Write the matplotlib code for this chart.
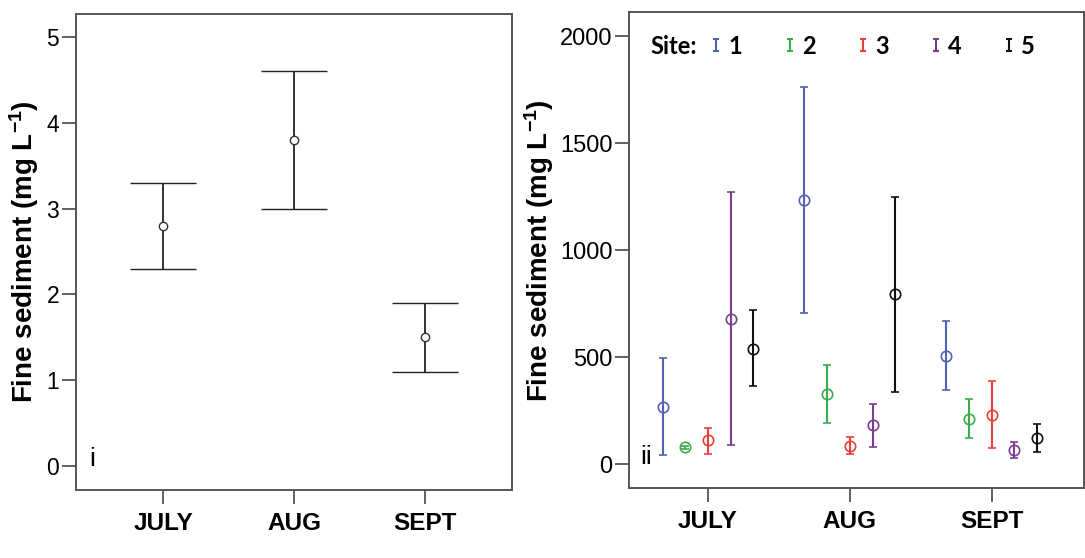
import numpy as np
import matplotlib
matplotlib.use('Agg')
from matplotlib import pyplot as plt
from matplotlib.lines import Line2D
from matplotlib.path import Path

plt.rcParams['font.family'] = 'Liberation Sans'
plt.rcParams['mathtext.fontset'] = 'custom'
plt.rcParams['mathtext.rm'] = 'Liberation Sans:bold'
plt.rcParams['mathtext.it'] = 'Liberation Sans:bold'
plt.rcParams['mathtext.bf'] = 'Liberation Sans:bold'

months = ['JULY', 'AUG', 'SEPT']

# panel i: all sites pooled
mean_all = [2.8, 3.8, 1.5]
low_all = [2.3, 3.0, 1.1]
high_all = [3.3, 4.6, 1.9]

# panel ii: per site, one value per month
sites = ['1', '2', '3', '4', '5']
site_mean = [[268, 1234, 507],
             [79, 327, 213],
             [112, 87, 232],
             [680, 182, 68],
             [540, 794, 123]]
site_low = [[42, 708, 345],
            [72, 193, 123],
            [50, 47, 78],
            [92, 81, 31],
            [364, 336, 58]]
site_high = [[496, 1761, 669],
             [86, 462, 305],
             [171, 128, 389],
             [1273, 283, 104],
             [719, 1251, 187]]
site_colors = ['#4f62b3', '#3daa4c', '#e8413c', '#7b3d90', '#111111']

YLABEL = 'Fine sediment (mg L$^{-1}$)'
SPINE = '#555555'


def style_axes(ax, ytick_size):
    for s in ax.spines.values():
        s.set_color(SPINE)
        s.set_linewidth(1.4)
    ax.tick_params(axis='both', direction='out', length=10, width=1.3, color=SPINE)
    ax.tick_params(axis='y', labelsize=ytick_size, pad=2)
    ax.tick_params(axis='x', pad=6)
    ax.set_xticks([1, 2, 3])
    ax.set_xticklabels(months, fontsize=17.5, fontweight='bold')


fig = plt.figure(figsize=(10.85, 5.58), dpi=100)

# ---- panel i
ax1 = fig.add_axes([0.070, 0.122, 0.402, 0.853])
x = np.arange(1, len(months) + 1)
yerr = [np.array(mean_all) - np.array(low_all), np.array(high_all) - np.array(mean_all)]
ax1.errorbar(x, mean_all, yerr=yerr, fmt='o', mfc='white', mec='#333333', ms=6,
             mew=1.0, ecolor='#222222', elinewidth=1.3, capsize=24, capthick=1.3)
ax1.set_xlim(0.335, 3.665)
ax1.set_ylim(-0.28, 5.27)
ax1.set_yticks([0, 1, 2, 3, 4, 5])
style_axes(ax1, 16.5)
ax1.set_ylabel(YLABEL, fontsize=20, fontweight='bold', labelpad=4)
ax1.text(0.03, 0.04, 'i', transform=ax1.transAxes, fontsize=19, va='bottom', ha='left')

# ---- panel ii
ax2 = fig.add_axes([0.580, 0.125, 0.419, 0.853])
offsets = (np.arange(len(sites)) - 2) * 0.16
for i, site in enumerate(sites):
    m = np.array(site_mean[i])
    lo = np.array(site_low[i])
    hi = np.array(site_high[i])
    ax2.errorbar(x + offsets[i], m, yerr=[m - lo, hi - m], fmt='o', mfc='none',
                 mec=site_colors[i], ms=7.5, mew=1.2, ecolor=site_colors[i],
                 elinewidth=1.5, capsize=3, capthick=1.5)
ax2.set_xlim(0.445, 3.65)
ax2.set_ylim(-112, 2112)
ax2.set_yticks([0, 500, 1000, 1500, 2000])
style_axes(ax2, 17)
ax2.set_ylabel(YLABEL, fontsize=20, fontweight='bold', labelpad=3)
ax2.text(0.025, 0.04, 'ii', transform=ax2.transAxes, fontsize=19, va='bottom', ha='left')

# legend: "Site:" then small error-bar symbols
bar_path = Path([(-0.5, -1), (0.5, -1), (0, -1), (0, 1), (-0.5, 1), (0.5, 1)],
                [Path.MOVETO, Path.LINETO, Path.MOVETO, Path.LINETO, Path.MOVETO, Path.LINETO])
handles = [Line2D([], [], linestyle='', marker=bar_path, markersize=8,
                  markeredgecolor=c, markerfacecolor='none', markeredgewidth=1.5)
           for c in site_colors]
ax2.text(0.046, 0.929, 'Site:', transform=ax2.transAxes, fontsize=17,
         fontweight='bold', family='Lato', va='center', ha='left')
leg = ax2.legend(handles, sites, ncol=5, frameon=False, loc='center left',
                 bbox_to_anchor=(0.176, 0.929), borderaxespad=0, borderpad=0,
                 handlelength=0.6, handletextpad=0.21, columnspacing=1.71,
                 prop={'family': 'Lato', 'weight': 'bold', 'size': 17})

fig.savefig('out.png', dpi=100)
